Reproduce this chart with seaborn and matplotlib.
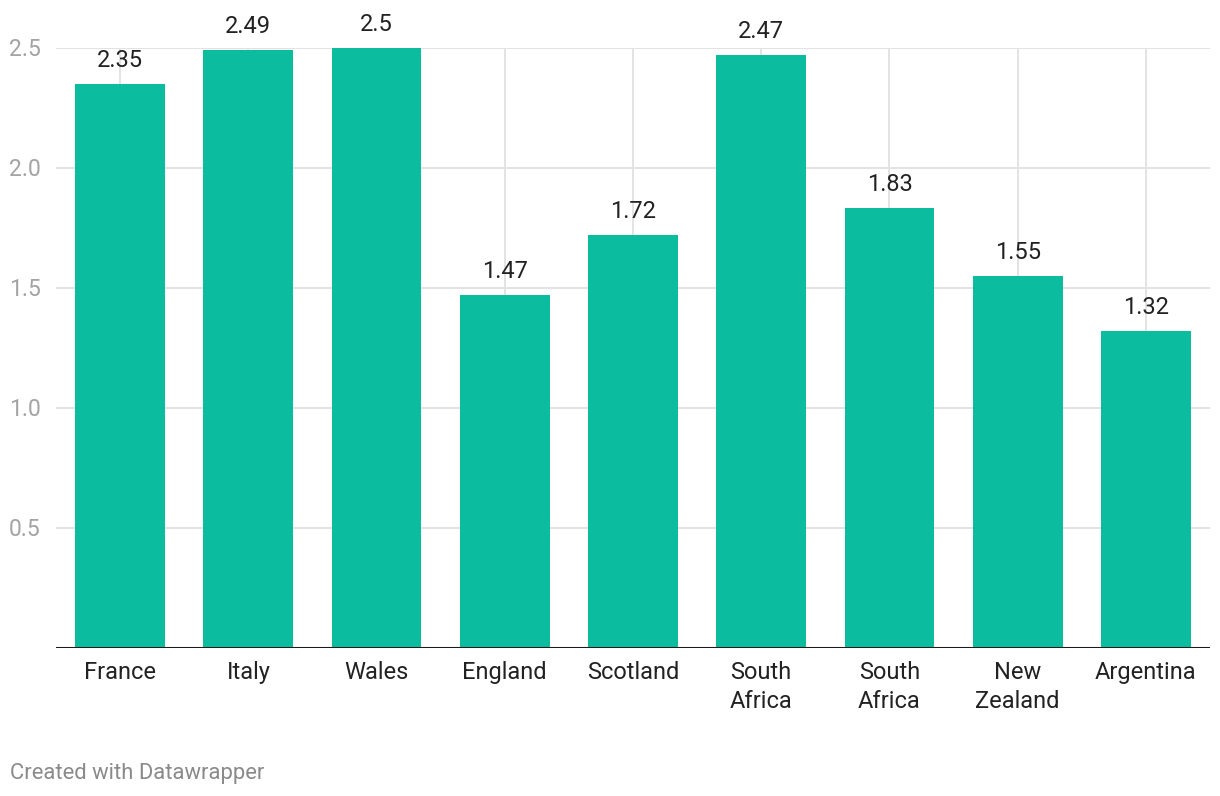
import matplotlib
matplotlib.use("Agg")
import matplotlib.pyplot as plt
import seaborn as sns
import pandas as pd

categories = ["France", "Italy", "Wales", "England", "Scotland",
              "South\nAfrica", "South\nAfrica", "New\nZealand", "Argentina"]
values = [2.35, 2.49, 2.5, 1.47, 1.72, 2.47, 1.83, 1.55, 1.32]
value_labels = ["2.35", "2.49", "2.5", "1.47", "1.72", "2.47", "1.83", "1.55", "1.32"]
y_ticks = [0.5, 1.0, 1.5, 2.0, 2.5]
y_tick_labels = ["0.5", "1.0", "1.5", "2.0", "2.5"]

sns.set_theme(style="white")
plt.rcParams["font.family"] = ["Roboto", "DejaVu Sans"]

BAR = "#0bbc9f"
GRID = "#e3e3e3"

df = pd.DataFrame({"idx": list(range(len(values))), "value": values})

fig = plt.figure(figsize=(12.2, 7.96), dpi=100)
ax = fig.add_axes([56/1220, (796-647.5)/796, 1154/1220, 600/796])

sns.barplot(data=df, x="idx", y="value", color=BAR, saturation=1,
            width=0.70, ax=ax, zorder=3, edgecolor="none", linewidth=0)

ax.set_xlim(-0.5, len(values) - 0.5)
ax.set_ylim(0, 2.5)

for y in y_ticks:
    ax.axhline(y, color=GRID, lw=1.4, zorder=1)
for i in range(len(values)):
    ax.plot([i, i], [0, 2.5], color=GRID, lw=1.4, zorder=1)
ax.axhline(0, color="#1a1a1a", lw=2.2, zorder=4)

for i, (v, t) in enumerate(zip(values, value_labels)):
    ax.annotate(t, (i, v), xytext=(0, 8.5), textcoords="offset points",
                ha="center", va="bottom", fontsize=17, color="#222222",
                annotation_clip=False, zorder=5)

ax.set_yticks(y_ticks)
ax.set_yticklabels(y_tick_labels, fontsize=16.5, color="#a3a3a3")
ax.set_xticks(range(len(values)))
ax.set_xticklabels(categories, fontsize=17, color="#222222", linespacing=1.3)
ax.tick_params(axis="y", length=0, pad=11)
ax.tick_params(axis="x", length=0, pad=10)
ax.set_xlabel("")
ax.set_ylabel("")
for s in ax.spines.values():
    s.set_visible(False)

fig.text(10/1220, 1 - 773/796, "Created with Datawrapper", fontsize=15.8,
         color="#8a8a8a", ha="left", va="center")

fig.savefig("out.png", dpi=100, facecolor="white")
